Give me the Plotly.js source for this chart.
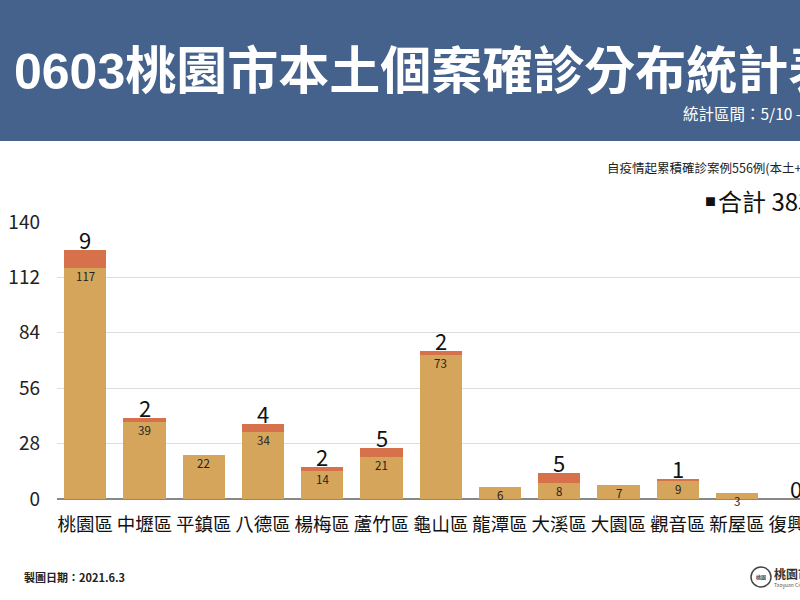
<!DOCTYPE html>
<html>
<head>
<meta charset="utf-8">
<script src="https://cdn.plot.ly/plotly-3.0.1.min.js"></script>
<style>
  html, body { margin: 0; padding: 0; background: #fff; }
  #chart { width: 800px; height: 600px; }
</style>
</head>
<body>
<div id="chart"></div>
<script>
// districts and case counts (base = earlier cases, added = new today)
var districts = ['桃園區', '中壢區', '平鎮區', '八德區', '楊梅區', '蘆竹區', '龜山區', '龍潭區', '大溪區', '大園區', '觀音區', '新屋區', '復興區'];
var baseCases = [117, 39, 22, 34, 14, 21, 73, 6, 8, 7, 9, 3, 0];
var newCases = [9, 2, null, 4, 2, 5, 2, null, 5, null, 1, null, 0];
var yTicks = [0, 28, 56, 84, 112, 140];

var font = '"Noto Sans CJK TC", "Noto Sans", sans-serif';

// plot area in pixels: left 57, right 800, top 222, bottom 499
function px(x) { return (x - 57) / 743; }
function py(y) { return (499 - y) / 277; }

var traceBase = {
    x: districts,
    y: baseCases,
    type: 'bar',
    marker: { color: '#D5A55B' },
    hoverinfo: 'x+y'
};

var traceNew = {
    x: districts,
    y: newCases.map(v => v || 0),
    type: 'bar',
    marker: { color: '#D6714B' },
    hoverinfo: 'x+y'
};

var annotations = [];

// small labels on top of the base segment
for (var i = 0; i < districts.length; i++) {
    if (baseCases[i] > 0) {
        annotations.push({
            x: districts[i], y: baseCases[i], xref: 'x', yref: 'y',
            text: String(baseCases[i]), showarrow: false,
            yanchor: 'middle', yshift: -8,
            font: { family: font, size: 11.5, color: '#222' }
        });
    }
}

// big labels for the new cases
for (var i = 0; i < districts.length; i++) {
    if (newCases[i] !== null) {
        annotations.push({
            x: districts[i], y: baseCases[i] + newCases[i], xref: 'x', yref: 'y',
            text: String(newCases[i]), showarrow: false,
            yanchor: 'middle', yshift: 11,
            font: { family: font, size: 22, color: '#111' }
        });
    }
}

var total = baseCases.reduce((a, b) => a + b, 0) + newCases.reduce((a, b) => a + (b || 0), 0);

// header and footer text
annotations.push(
    {
        xref: 'paper', yref: 'paper', x: px(12), y: py(67),
        xanchor: 'left', yanchor: 'middle', showarrow: false,
        text: '<b><span style="font-family:Liberation Sans Narrow, Liberation Sans, sans-serif;font-size:50px">0603</span>桃園市本土個案確診分布統計表</b>',
        font: { family: font, size: 51, color: '#ffffff' }
    },
    {
        xref: 'paper', yref: 'paper', x: px(681), y: py(113),
        xanchor: 'left', yanchor: 'middle', showarrow: false,
        text: '統計區間：5/10 - 6/3',
        font: { family: font, size: 15.5, color: '#ffffff' }
    },
    {
        xref: 'paper', yref: 'paper', x: px(605), y: py(168),
        xanchor: 'left', yanchor: 'middle', showarrow: false,
        text: '自疫情起累積確診案例556例(本土+境外)',
        font: { family: font, size: 12.5, color: '#222' }
    },
    {
        xref: 'paper', yref: 'paper', x: px(703), y: py(201),
        xanchor: 'left', yanchor: 'middle', showarrow: false,
        text: '■',
        font: { family: font, size: 11, color: '#111' }
    },
    {
        xref: 'paper', yref: 'paper', x: px(716), y: py(200),
        xanchor: 'left', yanchor: 'middle', showarrow: false,
        text: '合計 ' + total + '例',
        font: { family: font, size: 24, color: '#111' }
    },
    {
        xref: 'paper', yref: 'paper', x: px(22), y: py(577),
        xanchor: 'left', yanchor: 'middle', showarrow: false,
        text: '<b>製圖日期：2021.6.3</b>',
        font: { family: font, size: 11, color: '#222' }
    },
    {
        xref: 'paper', yref: 'paper', x: px(772), y: py(573),
        xanchor: 'left', yanchor: 'middle', showarrow: false,
        text: '<b>桃園市政府</b>',
        font: { family: font, size: 12, color: '#333' }
    },
    {
        xref: 'paper', yref: 'paper', x: px(772), y: py(585),
        xanchor: 'left', yanchor: 'middle', showarrow: false,
        text: 'Taoyuan City',
        font: { family: font, size: 5, color: '#555' }
    },
    {
        xref: 'paper', yref: 'paper', x: px(761), y: py(577),
        xanchor: 'center', yanchor: 'middle', showarrow: false,
        text: '<b>桃園</b>',
        font: { family: font, size: 5, color: '#444' }
    }
);

var shapes = [
    // blue title banner
    {
        type: 'rect', xref: 'paper', yref: 'paper',
        x0: px(0), x1: px(800), y0: py(141), y1: py(0),
        fillcolor: '#44628B', line: { width: 0 }, layer: 'below'
    },
    // city emblem
    {
        type: 'circle', xref: 'paper', yref: 'paper',
        x0: px(751), x1: px(771), y0: py(587), y1: py(567),
        fillcolor: 'rgba(0,0,0,0)', line: { color: '#444', width: 1.5 }
    }
];

var layout = {
    width: 800,
    height: 600,
    barmode: 'stack',
    bargap: 0.29,
    showlegend: false,
    paper_bgcolor: '#ffffff',
    plot_bgcolor: '#ffffff',
    margin: { l: 57, r: 0, t: 222, b: 101 },
    font: { family: font },
    xaxis: {
        range: [-0.477, 12.063],
        tickfont: { family: font, size: 18.5, color: '#111' },
        ticks: '',
        ticklabelstandoff: 12,
        showgrid: false,
        showline: false,
        zeroline: false
    },
    yaxis: {
        range: [0, 140],
        tickvals: yTicks,
        ticks: '',
        ticklabelstandoff: 16,
        tickfont: { family: font, size: 19, color: '#222' },
        showgrid: true,
        gridcolor: '#dddddd',
        gridwidth: 1,
        zeroline: true,
        zerolinecolor: '#888888',
        zerolinewidth: 1.5,
        showline: false
    },
    shapes: shapes,
    annotations: annotations
};

Plotly.newPlot('chart', [traceBase, traceNew], layout, { staticPlot: true });
</script>
</body>
</html>
